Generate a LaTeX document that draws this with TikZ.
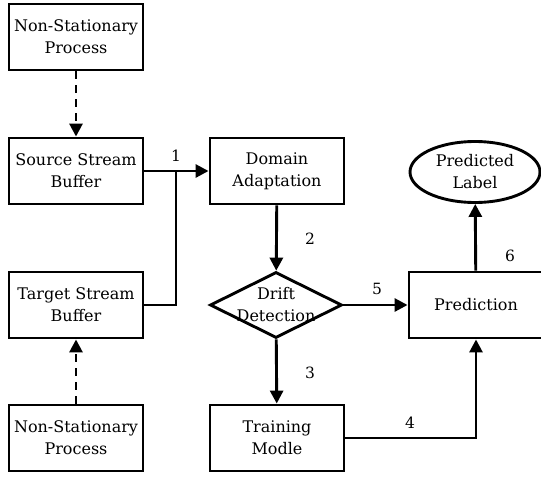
\documentclass[tikz,border=0pt]{standalone}
\usepackage{fontspec}
\setmainfont{DejaVu Serif}
\usetikzlibrary{shapes.geometric,arrows.meta}
\begin{document}
\begin{tikzpicture}[x=1pt,y=-1pt,
  every node/.style={font=\fontsize{16}{22}\selectfont, align=center, inner sep=0pt},
  box/.style={draw, line width=2.9pt, minimum width=134pt, minimum height=66pt},
  dia/.style={draw, diamond, line width=2.9pt, minimum width=132pt, minimum height=66pt, aspect=2},
  ell/.style={draw, ellipse, line width=2.9pt, minimum width=130pt, minimum height=61pt},
  conn/.style={line width=2.9pt, -{Triangle[length=13pt,width=13pt]}},
  dconn/.style={conn, dash pattern=on 8pt off 6pt},
  lbl/.style={font=\fontsize{15.5}{18}\selectfont}]
\useasboundingbox (0,0) rectangle (541,477);
\node[box] (nsp1) at (76,37) {Non-Stationary\\Process};
\node[box] (ssb) at (76,171) {Source Stream\\Buffer};
\node[box] (tsb) at (76,305) {Target Stream\\Buffer};
\node[box] (nsp2) at (76,438) {Non-Stationary\\Process};
\node[box] (da) at (277,171) {Domain\\Adaptation};
\node[dia] (dd) at (276,305) {};
\node at (276,305) {Drift\\Detection};
\node[box] (tm) at (277,438) {Training\\Modle};
\node[box] (pred) at (476,305) {Prediction};
\node[ell] (pl) at (475,172) {Predicted\\Label};
\coordinate (j) at (176,171);
\draw[dconn] (nsp1) -- (ssb);
\draw[dconn] (nsp2) -- (tsb);
\draw[conn] (ssb) -- (da);
\draw[line width=2.9pt] (tsb.east) -| (j);
\draw[conn] (da) -- (dd);
\draw[conn] (dd) -- (tm);
\draw[conn] (dd.east) -- (pred.west);
\draw[conn] (tm.east) -| (pred.south);
\draw[conn] (pred) -- (pl);
\node[lbl] (l1) at (176,156) {1};
\node[lbl] (l2) at (310,239) {2};
\node[lbl] (l3) at (310,373) {3};
\node[lbl] (l4) at (410,423) {4};
\node[lbl] (l5) at (377,289) {5};
\node[lbl] (l6) at (510,256) {6};
\end{tikzpicture}
\end{document}
